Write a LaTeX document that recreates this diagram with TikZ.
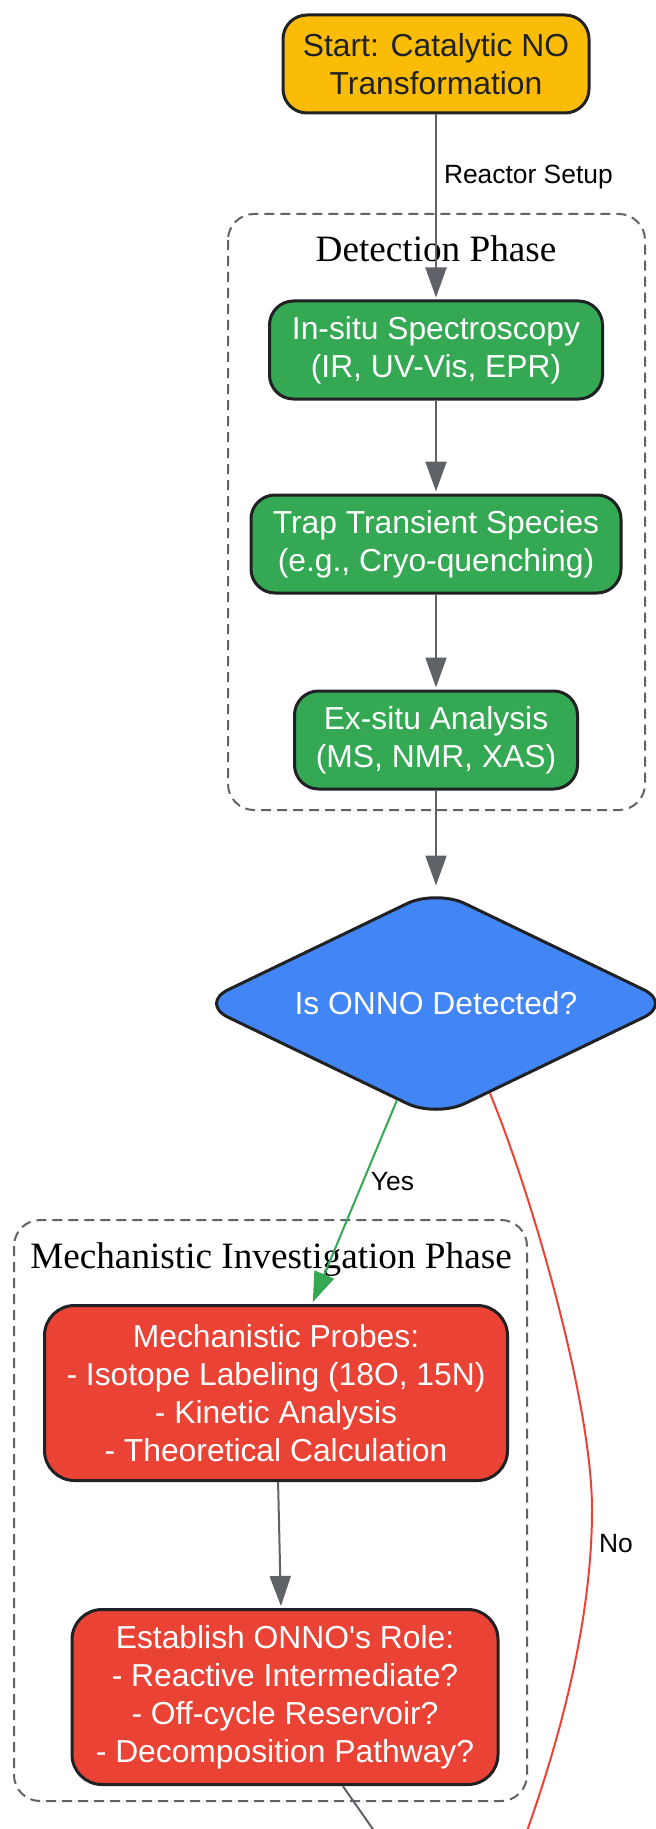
\documentclass[tikz,border=0pt]{standalone}
\usepackage{fontspec}
\setmainfont{Liberation Serif}
\setsansfont{Liberation Sans}
\usetikzlibrary{arrows.meta, positioning, shapes.geometric}
\definecolor{gyellow}{HTML}{FBBC05}
\definecolor{ggreen}{HTML}{34A853}
\definecolor{gblue}{HTML}{4285F4}
\definecolor{gred}{HTML}{EA4335}
\definecolor{ink}{HTML}{202124}
\definecolor{wire}{HTML}{5F6368}
\tikzstyle{flow}=[x=0.5pt, y=-0.5pt, node distance=46.5pt, shorten >=1pt, >={Triangle[length=15pt,width=10.5pt]}]
\tikzstyle{block}=[draw=ink, line width=1.5pt, rounded corners=12pt, inner sep=0pt, align=center, text=white, minimum height=49pt, font=\sffamily\fontsize{15.9}{19}\selectfont]
\tikzstyle{startbox}=[block, fill=gyellow, text=ink]
\tikzstyle{detectbox}=[block, fill=ggreen]
\tikzstyle{probebox}=[block, fill=gred, minimum height=87.5pt, rounded corners=15pt]
\tikzstyle{decision}=[diamond, aspect=2.07, draw=ink, line width=1.5pt, fill=gblue, text=white, rounded corners=16pt, inner sep=0pt, minimum width=237pt, minimum height=114.5pt, font=\sffamily\fontsize{15.9}{19}\selectfont]
\tikzstyle{phase}=[draw=wire, line width=1pt, dash pattern=on 5pt off 3pt, rounded corners=13pt]
\tikzstyle{phasetitle}=[anchor=base, inner sep=0pt, font=\fontsize{18.6}{22}\selectfont]
\tikzstyle{edgelabel}=[right, inner sep=3.5pt, text=black, font=\sffamily\fontsize{13.2}{16}\selectfont]
\tikzstyle{wireline}=[color=wire, line width=1pt]

\begin{document}
\begin{tikzpicture}[flow]
  \useasboundingbox (0,0) rectangle (655,1829);

  % phases
  \draw[phase] (228,214) rectangle (645,810);
  \draw[phase] (14,1220) rectangle (527,1801);
  \node[phasetitle] (detecttitle) at (436,262)  {Detection Phase};
  \node[phasetitle] (mechtitle)   at (271,1268) {Mechanistic Investigation Phase};

  \node[startbox, minimum width=153pt]  (start)  at (436,64)          {Start: Catalytic NO\\Transformation};
  \node[detectbox, minimum width=166.5pt] (insitu) [below=92.5pt of start] {In-situ Spectroscopy\\(IR, UV-Vis, EPR)};
  \node[detectbox, minimum width=185pt]   (trap)   [below=of insitu]       {Trap Transient Species\\(e.g., Cryo-quenching)};
  \node[detectbox, minimum width=141.5pt] (exsitu) [below=47.5pt of trap]  {Ex-situ Analysis\\(MS, NMR, XAS)};
  \node[decision]                         (detected) [below=48.5pt of exsitu] {Is ONNO Detected?};
  \node[probebox, minimum width=231.5pt]  (probes) at (276,1393)         {Mechanistic Probes:\\- Isotope Labeling (18O, 15N)\\- Kinetic Analysis\\- Theoretical Calculation};
  \node[probebox, minimum width=213pt]    (role)   [below=63pt of probes, xshift=4.5pt] {Establish ONNO\textquotesingle s Role:\\- Reactive Intermediate?\\- Off-cycle Reservoir?\\- Decomposition Pathway?};

  \coordinate (noturn)   at (592,1510);
  \coordinate (noend)    at (523,1842);
  \coordinate (nextstep) at (384,1845);

  \path[->, wireline]
    (start)  edge node[edgelabel, pos=0.34] {Reactor Setup} (insitu)
    (insitu) edge (trap)
    (trap)   edge (exsitu)
    (exsitu) edge (detected)
    (probes) edge ([xshift=-2pt]role.north);

  \draw[->, color=ggreen, line width=1pt]
    (detected.248) -- node[edgelabel, pos=0.4] {Yes} ([xshift=18pt]probes.north);
  \draw[color=gred, line width=1pt]
    (detected.301) .. controls (530,1190) and (592,1400) .. (noturn)
    .. controls (592,1620) and (560,1740) .. node[edgelabel, pos=0.1] {No} (noend);
  \draw[wireline] (role.303) -- (nextstep);
\end{tikzpicture}
\end{document}
